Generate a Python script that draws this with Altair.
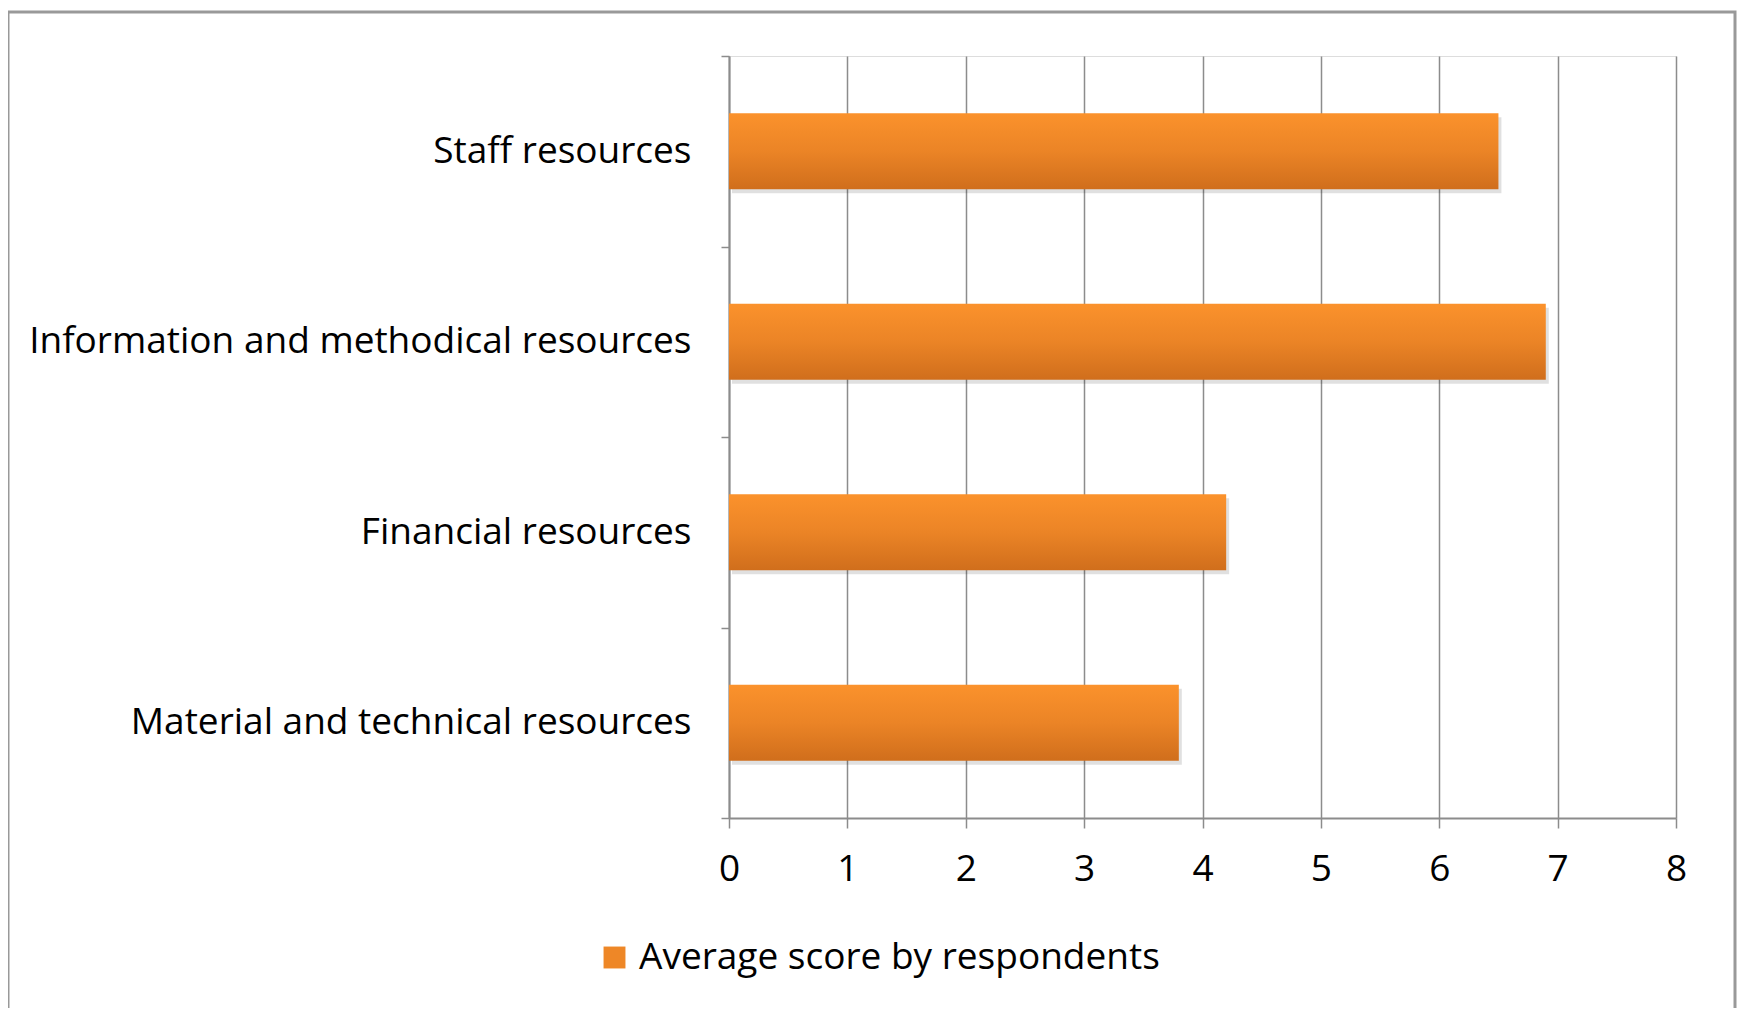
import altair as alt
import pandas as pd

categories = ["Staff resources", "Information and methodical resources",
              "Financial resources", "Material and technical resources"]
values = [6.5, 6.9, 4.2, 3.8]
series = ["Average score by respondents"] * 4
x_ticks = [0, 1, 2, 3, 4, 5, 6, 7, 8]

df = pd.DataFrame({"category": categories, "value": values, "series": series})

FONT = "Open Sans"
FS = 37
GRID = "#8c8c8c"

gradient = alt.Gradient(
    gradient="linear", x1=0, y1=0, x2=0, y2=1,
    stops=[alt.GradientStop(color="#FB922C", offset=0),
           alt.GradientStop(color="#EB8426", offset=0.5),
           alt.GradientStop(color="#D06E1C", offset=1)],
)

x_enc = alt.X("value:Q", scale=alt.Scale(domain=[0, 8], nice=False),
              axis=alt.Axis(values=x_ticks, title=None, grid=True, gridColor=GRID,
                            gridWidth=1.5, domainColor=GRID, domainWidth=2,
                            tickColor=GRID, tickWidth=1.5, tickSize=10,
                            labelPadding=23, labelFont=FONT, labelFontSize=FS,
                            labelColor="#000000", labelFlush=False))
y_enc = alt.Y("category:N", sort=categories,
              scale=alt.Scale(paddingInner=0, paddingOuter=0),
              axis=alt.Axis(title=None, tickBand="extent", domainColor=GRID,
                            domainWidth=2, tickColor=GRID, tickWidth=1.5, tickSize=8,
                            labelPadding=30, labelFont=FONT, labelFontSize=FS,
                            labelColor="#000000", labelLimit=800))

base = alt.Chart(df)

shadow = base.mark_bar(color="#000000", opacity=0.12, xOffset=3, yOffset=4,
                       height=alt.RelativeBandSize(0.4)).encode(x=x_enc, y=y_enc)

bars = base.mark_bar(color=gradient, height=alt.RelativeBandSize(0.4)).encode(x=x_enc, y=y_enc)

legend_layer = base.mark_bar(opacity=0, height=alt.RelativeBandSize(0.4)).encode(
    x=x_enc, y=y_enc,
    color=alt.Color("series:N", scale=alt.Scale(range=["#EE8727"]),
                    legend=alt.Legend(title=None, orient="none", legendX=-133,
                                      legendY=883, symbolType="square",
                                      symbolSize=480, symbolOpacity=1,
                                      symbolStrokeWidth=0, labelFont=FONT,
                                      labelFontSize=FS, labelColor="#000000",
                                      labelLimit=800, labelOffset=6)),
)

border = alt.Chart(pd.DataFrame({"a": [0]})).mark_rect(
    fill=None, stroke="#999999", strokeWidth=3
).encode(x=alt.value(-721), x2=alt.value(1006), y=alt.value(-44), y2=alt.value(1000))

chart = alt.layer(border, shadow, bars, legend_layer).properties(
    width=947, height=762,
    autosize=alt.AutoSizeParams(type="none"),
    padding={"left": 721, "top": 48, "right": 62, "bottom": 190},
).configure_view(stroke=None).configure(background="white")

chart.save("out.html", embed_options={"renderer": "svg", "actions": False})
